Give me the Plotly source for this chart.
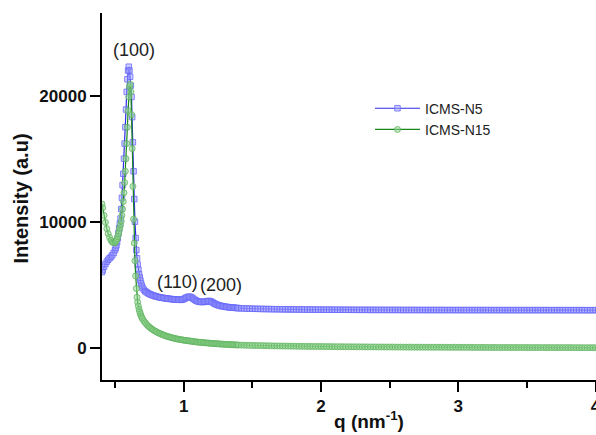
import plotly.graph_objects as go

# ---- scattering vector q (nm^-1), sampled in four segments ----
q_low = [0.405, 0.41, 0.42, 0.43, 0.44, 0.45, 0.46, 0.47, 0.48, 0.49, 0.50]
q_peak = [0.505, 0.510, 0.515, 0.520, 0.525, 0.530, 0.535, 0.540, 0.545, 0.550,
          0.555, 0.560, 0.565, 0.570, 0.575, 0.580, 0.585, 0.590, 0.595, 0.600,
          0.605, 0.610, 0.615, 0.620, 0.625, 0.630, 0.635, 0.640, 0.645, 0.650,
          0.655, 0.660, 0.665, 0.670, 0.675, 0.680, 0.685, 0.690, 0.695, 0.700]
q_mid = [0.71, 0.72, 0.73, 0.74, 0.75, 0.76, 0.77, 0.78, 0.79, 0.80,
         0.81, 0.82, 0.83, 0.84, 0.85, 0.86, 0.87, 0.88, 0.89, 0.90,
         0.91, 0.92, 0.93, 0.94, 0.95, 0.96, 0.97, 0.98, 0.99, 1.00,
         1.01, 1.02, 1.03, 1.04, 1.05, 1.06, 1.07, 1.08, 1.09, 1.10,
         1.11, 1.12, 1.13, 1.14, 1.15, 1.16, 1.17, 1.18, 1.19, 1.20,
         1.21, 1.22, 1.23, 1.24, 1.25, 1.26, 1.27, 1.28, 1.29, 1.30,
         1.31, 1.32, 1.33, 1.34, 1.35, 1.36, 1.37, 1.38, 1.39, 1.40]
q_tail = [1.42, 1.44, 1.46, 1.48, 1.50, 1.52, 1.54, 1.56, 1.58, 1.60,
          1.62, 1.64, 1.66, 1.68, 1.70, 1.72, 1.74, 1.76, 1.78, 1.80,
          1.82, 1.84, 1.86, 1.88, 1.90, 1.92, 1.94, 1.96, 1.98, 2.00,
          2.02, 2.04, 2.06, 2.08, 2.10, 2.12, 2.14, 2.16, 2.18, 2.20,
          2.22, 2.24, 2.26, 2.28, 2.30, 2.32, 2.34, 2.36, 2.38, 2.40,
          2.42, 2.44, 2.46, 2.48, 2.50, 2.52, 2.54, 2.56, 2.58, 2.60,
          2.62, 2.64, 2.66, 2.68, 2.70, 2.72, 2.74, 2.76, 2.78, 2.80,
          2.82, 2.84, 2.86, 2.88, 2.90, 2.92, 2.94, 2.96, 2.98, 3.00,
          3.02, 3.04, 3.06, 3.08, 3.10, 3.12, 3.14, 3.16, 3.18, 3.20,
          3.22, 3.24, 3.26, 3.28, 3.30, 3.32, 3.34, 3.36, 3.38, 3.40,
          3.42, 3.44, 3.46, 3.48, 3.50, 3.52, 3.54, 3.56, 3.58, 3.60,
          3.62, 3.64, 3.66, 3.68, 3.70, 3.72, 3.74, 3.76, 3.78, 3.80,
          3.82, 3.84, 3.86, 3.88, 3.90, 3.92, 3.94, 3.96, 3.98, 4.00,
          4.02]

# ---- ICMS-N5 intensity (a.u) ----
n5_low = [6000, 6150, 6420, 6650, 6830, 6980, 7100, 7210, 7340, 7520, 7750]
n5_peak = [7920, 8120, 8380, 8700, 9080, 9480, 9850, 10250, 11000, 11900,
           12900, 13800, 15000, 16200, 17500, 18900, 20300, 21300, 22000, 22300,
           22000, 21500, 20800, 19900, 18300, 16300, 14000, 11800, 10000, 8700,
           7750, 7100, 6600, 6200, 5850, 5580, 5330, 5100, 4910, 4750]
n5_mid = [4600, 4480, 4400, 4330, 4270, 4220, 4180, 4140, 4100, 4070,
          4040, 4010, 3990, 3970, 3950, 3930, 3920, 3900, 3890, 3870,
          3860, 3850, 3840, 3830, 3820, 3810, 3800, 3800, 3820, 3860,
          3920, 3980, 4030, 4050, 4030, 3970, 3890, 3810, 3740, 3690,
          3660, 3640, 3630, 3630, 3640, 3660, 3690, 3710, 3700, 3660,
          3600, 3530, 3470, 3420, 3380, 3350, 3320, 3300, 3280, 3260,
          3240, 3230, 3210, 3200, 3190, 3180, 3170, 3160, 3150, 3140]
n5_tail = [3125, 3118, 3110, 3103, 3097, 3091, 3085, 3080, 3075, 3070,
           3066, 3062, 3058, 3055, 3052, 3049, 3046, 3044, 3041, 3039,
           3037, 3035, 3033, 3031, 3029, 3028, 3026, 3025, 3023, 3022,
           3021, 3019, 3018, 3017, 3016, 3015, 3014, 3013, 3012, 3011,
           3010, 3009, 3008, 3007, 3006, 3006, 3005, 3004, 3003, 3003,
           3002, 3001, 3001, 3000, 3000, 2999, 2998, 2998, 2997, 2997,
           2996, 2996, 2995, 2995, 2995, 2994, 2994, 2993, 2993, 2993,
           2992, 2992, 2992, 2991, 2991, 2991, 2990, 2990, 2990, 2989,
           2989, 2989, 2989, 2988, 2988, 2988, 2988, 2987, 2987, 2987,
           2987, 2986, 2986, 2986, 2986, 2986, 2985, 2985, 2985, 2985,
           2985, 2984, 2984, 2984, 2984, 2984, 2984, 2983, 2983, 2983,
           2983, 2983, 2983, 2982, 2982, 2982, 2982, 2982, 2982, 2981,
           2981, 2981, 2981, 2981, 2981, 2980, 2980, 2980, 2980, 2980,
           2980]

# ---- ICMS-N15 intensity (a.u) ----
n15_low = [11400, 11100, 10500, 9950, 9450, 9050, 8750, 8520, 8380, 8320, 8350]
n15_peak = [8420, 8520, 8650, 8820, 9020, 9250, 9500, 9750, 10050, 10500,
            11000, 11600, 12300, 13100, 14000, 15000, 16200, 17500, 18800, 19900,
            20700, 20900, 20300, 18500, 15800, 12800, 10200, 8300, 6900, 5700,
            4700, 4000, 3600, 3300, 3050, 2850, 2680, 2530, 2400, 2290]
n15_mid = [2120, 1980, 1850, 1740, 1640, 1550, 1470, 1400, 1330, 1270,
           1210, 1160, 1110, 1060, 1020, 980, 940, 900, 870, 840,
           810, 780, 750, 725, 700, 680, 660, 640, 620, 600,
           585, 570, 555, 540, 525, 510, 495, 480, 465, 450,
           440, 430, 420, 410, 400, 390, 380, 370, 360, 350,
           342, 334, 326, 318, 310, 302, 295, 288, 281, 274,
           268, 262, 256, 250, 244, 238, 232, 226, 220, 215]
n15_tail = [208, 201, 195, 189, 183, 178, 173, 168, 163, 158,
            154, 150, 146, 142, 138, 135, 131, 128, 125, 122,
            119, 116, 113, 110, 108, 105, 103, 100, 98, 96,
            94, 92, 90, 88, 86, 84, 82, 80, 79, 77,
            75, 74, 72, 71, 69, 68, 66, 65, 64, 62,
            61, 60, 58, 57, 56, 55, 54, 52, 51, 50,
            49, 48, 47, 46, 45, 44, 43, 42, 41, 40,
            39, 38, 38, 37, 36, 35, 34, 33, 33, 32,
            31, 30, 30, 29, 28, 27, 27, 26, 25, 25,
            24, 23, 23, 22, 21, 21, 20, 20, 19, 18,
            18, 17, 17, 16, 16, 15, 15, 14, 14, 13,
            13, 12, 12, 11, 11, 11, 10, 10, 9, 9,
            9, 8, 8, 8, 7, 7, 7, 6, 6, 6,
            5]

# Bragg reflection labels: (text, q, intensity)
peak_labels = [("(100)", 0.637, 23600), ("(110)", 0.953, 5250), ("(200)", 1.272, 4980)]

# axis ticks
x_ticks = [1, 2, 3, 4]
y_ticks = [0, 10000, 20000]
y_tick_text = ["0", "10000", "20000"]

q = q_low + q_peak + q_mid + q_tail
n5 = n5_low + n5_peak + n5_mid + n5_tail
n15 = n15_low + n15_peak + n15_mid + n15_tail

FONT = "Liberation Sans, Arial, sans-serif"

fig = go.Figure()
fig.add_trace(go.Scatter(
    x=q, y=n5, name="ICMS-N5", mode="lines+markers",
    line=dict(color="rgb(45,45,235)", width=1.2),
    marker=dict(symbol="square", size=5.5, color="rgba(160,160,255,0.5)",
                line=dict(color="rgb(105,105,250)", width=0.8)),
))
fig.add_trace(go.Scatter(
    x=q, y=n15, name="ICMS-N15", mode="lines+markers",
    line=dict(color="rgb(25,135,25)", width=1.2),
    marker=dict(symbol="circle", size=6, color="rgba(150,215,150,0.55)",
                line=dict(color="rgb(95,180,95)", width=0.8)),
))

for text, qx, iy in peak_labels:
    fig.add_annotation(x=qx, y=iy, text=text, showarrow=False,
                       xanchor="center", yanchor="middle",
                       font=dict(family=FONT, size=18, color="#222"))

# axis titles placed as paper annotations
fig.add_annotation(xref="paper", yref="paper", x=0.540, y=-0.1485,
                   xanchor="center", yanchor="bottom",
                   text="q (nm<sup>-1</sup>)", showarrow=False,
                   font=dict(family=FONT, size=19, color="#111", weight="bold"))
fig.add_annotation(xref="paper", yref="paper", x=-0.165, y=0.496,
                   xanchor="center", yanchor="middle",
                   text="Intensity (a.u)", showarrow=False, textangle=-90,
                   font=dict(family=FONT, size=20, color="#111", weight="bold"))

axis_common = dict(
    showline=True, linecolor="black", linewidth=2, mirror=False,
    showgrid=False, zeroline=False, ticks="outside", tickcolor="black",
    tickwidth=2, ticklen=10, ticklabeloverflow="allow", automargin=False,
    tickfont=dict(family=FONT, size=17, color="#111", weight="bold"),
)

fig.update_xaxes(range=[0.405, 4.003], tickmode="array", tickvals=x_ticks,
                 minor=dict(tickmode="linear", tick0=0, dtick=0.5,
                            ticks="outside", ticklen=6, tickwidth=2,
                            tickcolor="black", showgrid=False),
                 **axis_common)
fig.update_yaxes(range=[-2560, 26560], tickmode="array",
                 tickvals=y_ticks, ticktext=y_tick_text, **axis_common)

fig.update_layout(
    width=596, height=435,
    margin=dict(l=102, r=0, t=13, b=55),
    paper_bgcolor="white", plot_bgcolor="white",
    showlegend=True,
    legend=dict(x=0.5425, y=0.783, xanchor="left", yanchor="top",
                bgcolor="rgba(0,0,0,0)", itemwidth=45,
                font=dict(family=FONT, size=14, color="#222")),
)

fig.write_html("out.html")
